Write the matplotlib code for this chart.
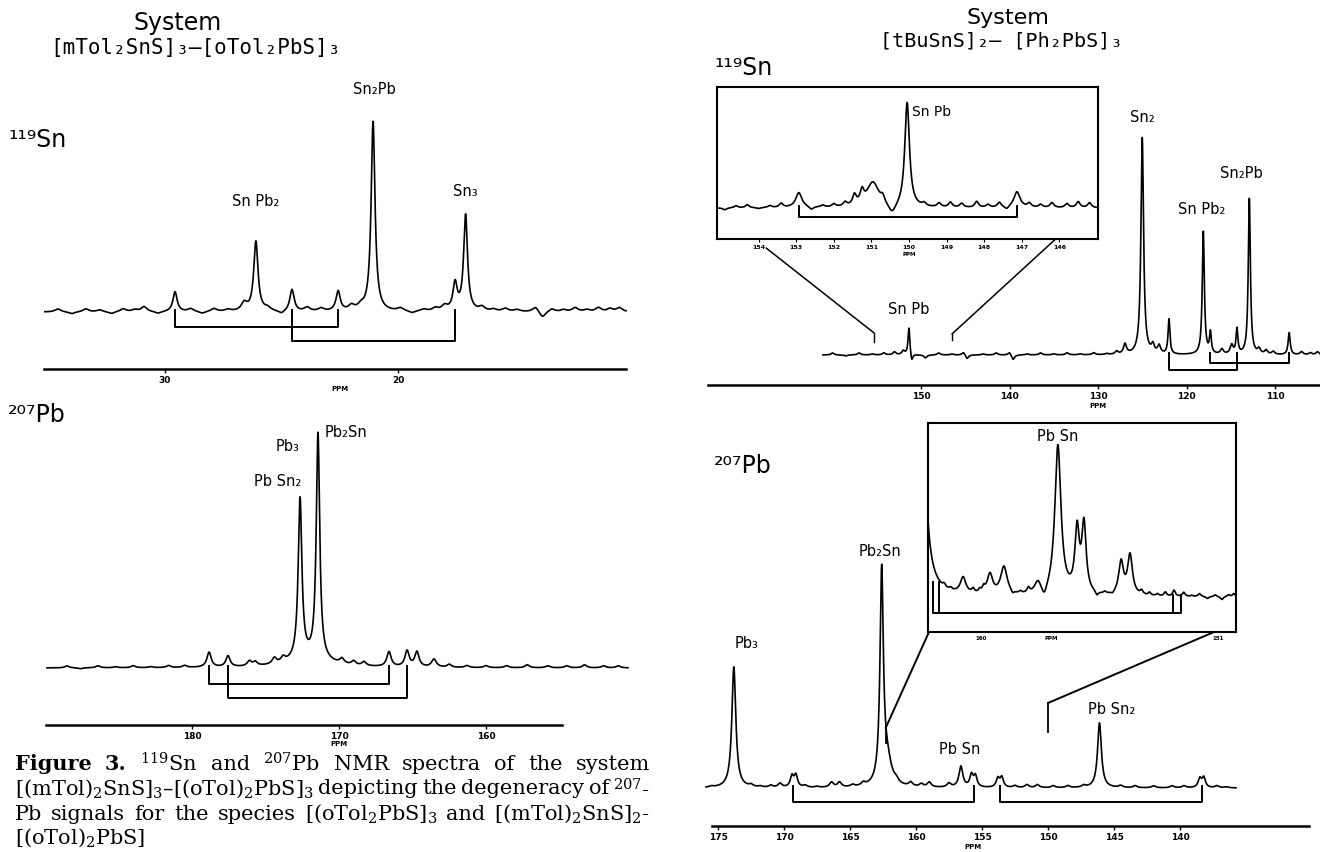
import matplotlib
matplotlib.use("Agg")
import matplotlib.pyplot as plt
from matplotlib.patches import ConnectionPatch
import numpy as np

W, H = 1320, 852
plt.rcParams["font.family"] = ["DejaVu Sans"]
plt.rcParams["mathtext.fontset"] = "dejavuserif"
LABEL_FONT = ["Liberation Sans Narrow", "DejaVu Sans"]

# ------------------------------------------------------------------ data
# peaks: (ppm, height, fwhm ppm), heights in scan pixels above the baseline
# ripple: small baseline wiggles (ppm, height)

# left system, 119Sn
snL_peaks = [(21.07, 190, 0.20), (26.10, 70, 0.22), (17.10, 96, 0.20),
             (29.57, 20, 0.22), (24.55, 22, 0.22), (22.57, 20, 0.22),
             (17.55, 27, 0.22)]
snL_ripple = [(34.6, 3), (34.0, -2), (33.4, 3), (32.8, 2), (32.3, -2), (31.8, 3),
              (31.3, 2), (30.9, 5), (30.3, -2), (28.9, 3), (28.4, -2), (27.9, 3),
              (27.3, 2), (26.6, 8), (25.6, 3), (25.0, -3), (23.9, 4), (23.3, 3),
              (22.0, 5), (21.6, 4), (19.9, 3), (19.4, -2), (18.9, 2), (18.4, 3),
              (18.0, 5), (16.4, 4), (15.9, 2), (15.4, 3), (14.9, 2), (14.1, 5),
              (13.8, -6), (13.4, 3), (12.9, 2), (12.4, 4), (11.9, 2), (11.4, 4),
              (10.9, 3), (10.5, 4)]
snL_labels = [("Sn₂Pb", 21.0, 222), ("Sn Pb₂", 26.1, 110), ("Sn₃", 17.1, 120)]
snL_brackets = [(29.57, 22.57, -15), (24.55, 17.55, -29)]
snL_ticks = [30, 20]

# left system, 207Pb
pbL_peaks = [(172.65, 161, 0.30), (171.43, 226, 0.28), (172.0, 8, 3.5),
             (178.84, 15, 0.35), (177.55, 11, 0.35), (166.6, 15, 0.35),
             (165.37, 16, 0.35), (164.7, 15, 0.35), (163.54, 8, 0.4)]
pbL_ripple = [(188.5, 2), (187.6, -1), (186.4, 2), (185.2, 1), (184.0, 2), (182.8, 1),
              (181.6, 2), (180.5, 2), (176.1, 5), (175.7, 4), (174.4, 6), (173.8, 5),
              (169.8, 5), (169.0, 4), (168.3, 4), (162.5, 3), (161.3, 2), (160.0, 2),
              (158.6, 2), (157.2, 3), (155.8, 2), (154.5, 2), (153.3, 3), (152.0, 2),
              (151.0, 2)]
pbL_labels = [("Pb Sn₂", 174.2, 186), ("Pb₃", 173.5, 221), ("Pb₂Sn", 169.5, 235)]
pbL_brackets = [(178.84, 166.6, -16), (177.55, 165.37, -30)]
pbL_ticks = [180, 170, 160]

# right system, 119Sn
snR_peaks = [(125.0, 217, 0.35), (121.98, 35, 0.25), (118.1, 123, 0.28),
             (117.3, 21, 0.25), (114.3, 25, 0.25), (112.9, 156, 0.28),
             (108.4, 22, 0.28), (151.36, 28, 0.25), (151.05, -8, 0.3)]
snR_ripple = [(160.0, 2), (158.5, -1), (157.0, 2), (155.5, 1), (154.2, 2), (153.0, 3),
              (152.0, 4), (149.5, -3), (148.0, 2), (146.5, 1), (145.2, 3), (144.8, -4),
              (143.0, 1), (141.5, 2), (140.0, 3), (139.6, -5), (138.0, 1), (136.5, 2),
              (135.0, 1), (133.5, 2), (132.0, 1), (130.5, 2), (129.0, 1), (127.9, 3),
              (126.95, 10), (123.8, 8), (123.1, 8), (116.0, 5), (114.9, 9), (111.8, 5),
              (111.0, 4), (110.2, 3), (107.0, 3), (106.0, 2), (105.2, 3)]
snR_labels = [("Sn₂", 125.0, 238), ("Sn Pb₂", 118.25, 145), ("Sn₂Pb", 113.8, 182),
              ("Sn Pb", 151.4, 45)]
snR_brackets = [(121.98, 114.3, -15), (117.3, 108.4, -8)]
snR_ticks = [150, 140, 130, 120, 110]

# right system, 119Sn expansion
snRi_peaks = [(150.05, 105, 0.15), (152.93, 15, 0.2), (147.13, 16, 0.2),
              (150.96, 25, 0.4), (150.45, -10, 0.25)]
snRi_ripple = [(154.9, -2), (154.6, 2), (154.3, 3), (154.0, -1), (153.7, 2), (153.4, 4),
               (152.6, -3), (152.3, 2), (152.0, 3), (151.7, 4), (151.45, 10),
               (151.25, 12), (150.7, 6), (149.6, 3), (149.2, 4), (148.9, 5), (148.6, 4),
               (148.2, 6), (147.9, 3), (147.6, 5), (147.4, -3), (146.8, 4), (146.5, 3),
               (146.2, 5), (145.8, 4), (145.5, 6), (145.2, 5)]
snRi_ticks = [154, 153, 152, 151, 150, 149, 148, 147, 146]
snRi_bracket = (152.93, 147.13, -9)

# right system, 207Pb
pbR_peaks = [(173.8, 121, 0.36), (162.6, 211, 0.30), (162.2, 25, 0.8),
             (156.6, 21, 0.35), (146.1, 65, 0.35),
             (169.4, 11, 0.3), (169.1, 12, 0.3), (155.8, 12, 0.3), (155.5, 11, 0.3),
             (153.8, 9, 0.3), (153.5, 10, 0.3), (138.5, 9, 0.3), (138.2, 10, 0.3)]
pbR_ripple = [(175.5, 1), (172.5, 2), (171.8, 1), (171.0, 2), (170.3, 4), (168.4, 2),
              (167.5, 1), (166.4, 5), (165.8, 5), (164.8, 2), (164.0, 3), (161.5, 3),
              (160.4, 4), (159.6, 3), (159.0, 5), (157.5, 4), (152.5, 2), (151.6, 3),
              (150.8, 3), (149.6, 2), (148.5, 2), (147.3, 2), (144.5, 2), (143.4, 2),
              (142.0, 2), (140.6, 2), (139.7, 2), (137.2, 2), (136.5, 1)]
pbR_labels = [("Pb₃", 172.8, 145), ("Pb₂Sn", 162.7, 236), ("Pb Sn", 156.7, 38),
              ("Pb Sn₂", 145.2, 78)]
pbR_brackets = [(169.3, 155.6, -14), (153.6, 138.3, -14)]
pbR_ticks = [175, 170, 165, 160, 155, 150, 145, 140]

# right system, 207Pb expansion
pbRi_peaks = [(162.35, 950, 0.2), (157.08, 150, 0.28), (156.35, 62, 0.2),
              (156.09, 68, 0.2), (154.68, 33, 0.22), (154.34, 40, 0.22),
              (160.68, 16, 0.25), (159.66, 20, 0.25), (159.13, 28, 0.3),
              (157.84, 12, 0.3), (157.6, -10, 0.25)]
pbRi_ripple = [(161.4, 3), (161.15, 2), (160.3, 4), (160.05, 3), (159.9, 5), (158.8, -3),
               (158.5, 2), (158.2, 5), (155.6, -4), (155.3, 2), (155.0, -2), (153.9, 4),
               (153.6, 3), (153.3, 2), (153.0, 4), (152.67, 6), (152.3, 4), (152.0, 1),
               (151.7, 3), (151.4, -2), (151.1, 2), (150.85, -3), (150.6, 2), (150.4, 3)]
pbRi_ticks = [160, 157.34, 151]
pbRi_ticklabels = ["160", "PPM", "151"]
pbRi_bracket = (161.82, 152.4, -16)
pbRi_posts = [(161.6, 15), (152.71, 2)]

caption_lines = [
    ["Figure", "3.", "$^{119}$Sn", "and", "$^{207}$Pb", "NMR", "spectra", "of", "the", "system"],
    ["[(mTol)$_2$SnS]$_3$–[(oTol)$_2$PbS]$_3$", "depicting", "the", "degeneracy", "of",
     "$^{207}$-"],
    ["Pb", "signals", "for", "the", "species", "[(oTol$_2$PbS]$_3$", "and",
     "[(mTol)$_2$SnS]$_2$-"],
    ["[(oTol)$_2$PbS]"],
]

# ------------------------------------------------------------------ helpers
fig = plt.figure(figsize=(W / 100, H / 100), dpi=100)
fig.patch.set_facecolor("white")


def ppm_map(ref_x, ref_ppm, px_per_ppm):
    return lambda x: ref_ppm - (x - ref_x) / px_per_ppm


def add_panel(box, ppm_of, baseline, frame=False):
    x0, y0, x1, y1 = box
    ax = fig.add_axes([x0 / W, 1 - y1 / H, (x1 - x0) / W, (y1 - y0) / H])
    ax.set_xlim(ppm_of(x0), ppm_of(x1))
    ax.set_ylim(baseline - y1, baseline - y0)
    ax.set_yticks([])
    if frame:
        ax.set_facecolor("white")
        for s in ax.spines.values():
            s.set_linewidth(1.5)
    else:
        ax.patch.set_visible(False)
        for s in ax.spines.values():
            s.set_visible(False)
        ax.set_xticks([])
    return ax


def spectrum(ax, lo, hi, peaks, ripple, rip_w):
    x = np.linspace(hi, lo, 5000)
    y = np.zeros_like(x)
    for p, h, w in list(peaks) + [(p, h, rip_w) for p, h in ripple]:
        g = w / 2
        y += h * g * g / ((x - p) ** 2 + g * g)
    ax.plot(x, y, color="black", lw=1.2)


def bracket(ax, a, b, ybar, top_a=2, top_b=2):
    ax.plot([a, a, b, b], [top_a, ybar, ybar, top_b], color="black", lw=1.4)


def peak_labels(ax, labels, size=10.5):
    for txt, p, h in labels:
        ax.text(p, h, txt, ha="center", va="center", fontsize=size, family=LABEL_FONT)


def scale_axis(ax, ydata, left, right, ticks, ppm_at, ppm_y):
    sp = ax.spines["bottom"]
    sp.set_visible(True)
    sp.set_position(("data", ydata))
    sp.set_bounds(right, left)
    sp.set_linewidth(1.8)
    ax.set_xticks(ticks)
    ax.set_xticklabels([str(t) for t in ticks], fontsize=6.5, fontweight="bold")
    ax.tick_params(axis="x", direction="out", length=3, width=1, pad=2)
    ax.text(ppm_at, ppm_y, "PPM", fontsize=5, fontweight="bold", ha="center", va="center")


def ftext(x, y, s, **kw):
    fig.text(x / W, 1 - y / H, s, **kw)


# ------------------------------------------------------------------ left: 119Sn
m = ppm_map(165, 30, 23.3)
ax = add_panel((44, 60, 630, 400), m, 312)
spectrum(ax, m(626), m(44), snL_peaks, snL_ripple, 0.3)
for a, b, yb in snL_brackets:
    bracket(ax, a, b, yb)
peak_labels(ax, snL_labels)
scale_axis(ax, 312 - 369, m(44), m(626), snL_ticks, m(340), 312 - 389)

# ------------------------------------------------------------------ left: 207Pb
m = ppm_map(339, 170, 14.7)
ax = add_panel((44, 420, 630, 752), m, 668)
spectrum(ax, m(628), m(47), pbL_peaks, pbL_ripple, 0.35)
for a, b, yb in pbL_brackets:
    bracket(ax, a, b, yb)
peak_labels(ax, pbL_labels)
scale_axis(ax, 668 - 725, m(46), m(562), pbL_ticks, 170, 668 - 744)

# ------------------------------------------------------------------ right: 119Sn
m = ppm_map(921, 150, 8.85)
axSn = add_panel((706, 100, 1320, 412), m, 355)
spectrum(axSn, m(1320), m(823), snR_peaks, snR_ripple, 0.4)
for a, b, yb in snR_brackets:
    bracket(axSn, a, b, yb)
peak_labels(axSn, snR_labels)
scale_axis(axSn, 355 - 385, m(708), m(1320), snR_ticks, 130, 355 - 406)

mi = ppm_map(909, 150, 37.6)
axSi = add_panel((717, 87, 1098, 239), mi, 208, frame=True)
spectrum(axSi, mi(1098), mi(717), snRi_peaks, snRi_ripple, 0.12)
bracket(axSi, *snRi_bracket)
axSi.text(149.93, 96, "Sn Pb", ha="left", va="center", fontsize=10, family=LABEL_FONT)
axSi.set_xticks(snRi_ticks)
axSi.set_xticklabels([str(t) for t in snRi_ticks], fontsize=4.5, fontweight="bold")
axSi.tick_params(axis="x", direction="out", length=2, width=0.8, pad=2)
axSi.text(150, -46, "PPM", fontsize=4, fontweight="bold", ha="center", va="center")

for (pa, ya), (pb, yb, ye) in [((153.8, -40), (155.3, 22, 13)),
                               ((146.1, -31), (146.5, 21, 15))]:
    con = ConnectionPatch(xyA=(pa, ya), coordsA=axSi.transData,
                          xyB=(pb, yb), coordsB=axSn.transData, color="black", lw=1.1)
    fig.add_artist(con)
    axSn.plot([pb, pb], [yb, ye], color="black", lw=1)

# ------------------------------------------------------------------ right: 207Pb
m = ppm_map(718, 175, 13.2)
axPb = add_panel((704, 540, 1312, 846), m, 788)
spectrum(axPb, m(1236), m(706), pbR_peaks, pbR_ripple, 0.35)
for a, b, yb in pbR_brackets:
    bracket(axPb, a, b, yb)
peak_labels(axPb, pbR_labels)
scale_axis(axPb, 788 - 826, m(712), m(1309), pbR_ticks, m(973), 788 - 847)

mi = ppm_map(981, 160, 26.33)
axPi = add_panel((928, 423, 1236, 632), mi, 597, frame=True)
spectrum(axPi, mi(1236), mi(928), pbRi_peaks, pbRi_ripple, 0.12)
bracket(axPi, pbRi_bracket[0], pbRi_bracket[1], pbRi_bracket[2], 15, 2)
for p, top in pbRi_posts:
    axPi.plot([p, p], [top, pbRi_bracket[2]], color="black", lw=1.4)
axPi.text(157.08, 161, "Pb Sn", ha="center", va="center", fontsize=10.5, family=LABEL_FONT)
axPi.set_xticks(pbRi_ticks)
axPi.set_xticklabels(pbRi_ticklabels, fontsize=4, fontweight="bold")
axPi.tick_params(axis="x", direction="out", length=0, pad=3)

for (pa, ya), (pb, yb, ye) in [((mi(929), 597 - 632), (162.3, 60, 45)),
                               ((mi(1214), 597 - 632), (150.0, 85, 56))]:
    con = ConnectionPatch(xyA=(pa, ya), coordsA=axPi.transData,
                          xyB=(pb, yb), coordsB=axPb.transData, color="black", lw=1.4)
    fig.add_artist(con)
    axPb.plot([pb, pb], [yb, ye], color="black", lw=1.3)

# ------------------------------------------------------------------ titles
ftext(178, 23, "System", fontsize=17, ha="center", va="center")
ftext(195, 48, "[mTol₂SnS]₃–[oTol₂PbS]₃", fontsize=15, family="DejaVu Sans Mono",
      ha="center", va="center")
ftext(8, 140, "¹¹⁹Sn", fontsize=17, ha="left", va="center")
ftext(8, 415, "²⁰⁷Pb", fontsize=17, ha="left", va="center")

ftext(1008, 18, "System", fontsize=16, ha="center", va="center")
ftext(1001, 41, "[tBuSnS]₂– [Ph₂PbS]₃", fontsize=14.5, family="DejaVu Sans Mono",
      ha="center", va="center")
ftext(714, 68, "¹¹⁹Sn", fontsize=17, ha="left", va="center")
ftext(714, 466, "²⁰⁷Pb", fontsize=17, ha="left", va="center")

# ------------------------------------------------------------------ caption (justified)
cap_x0, cap_x1 = 15, 650
cap_y = [764, 789, 814, 838]
renderer = fig.canvas.get_renderer()
for i, words in enumerate(caption_lines):
    objs = []
    for w in words:
        bold = i == 0 and w in ("Figure", "3.")
        objs.append(fig.text(0, 1 - cap_y[i] / H, w, fontsize=15, family="DejaVu Serif",
                             fontweight="bold" if bold else "normal", va="center"))
    widths = [t.get_window_extent(renderer).width for t in objs]
    if len(objs) > 1 and i < 3:
        gap = (cap_x1 - cap_x0 - sum(widths)) / (len(objs) - 1)
    else:
        gap = 6
    x = cap_x0
    for t, wd in zip(objs, widths):
        t.set_x(x / W)
        x += wd + gap

fig.savefig("out.png", dpi=100, facecolor="white")
